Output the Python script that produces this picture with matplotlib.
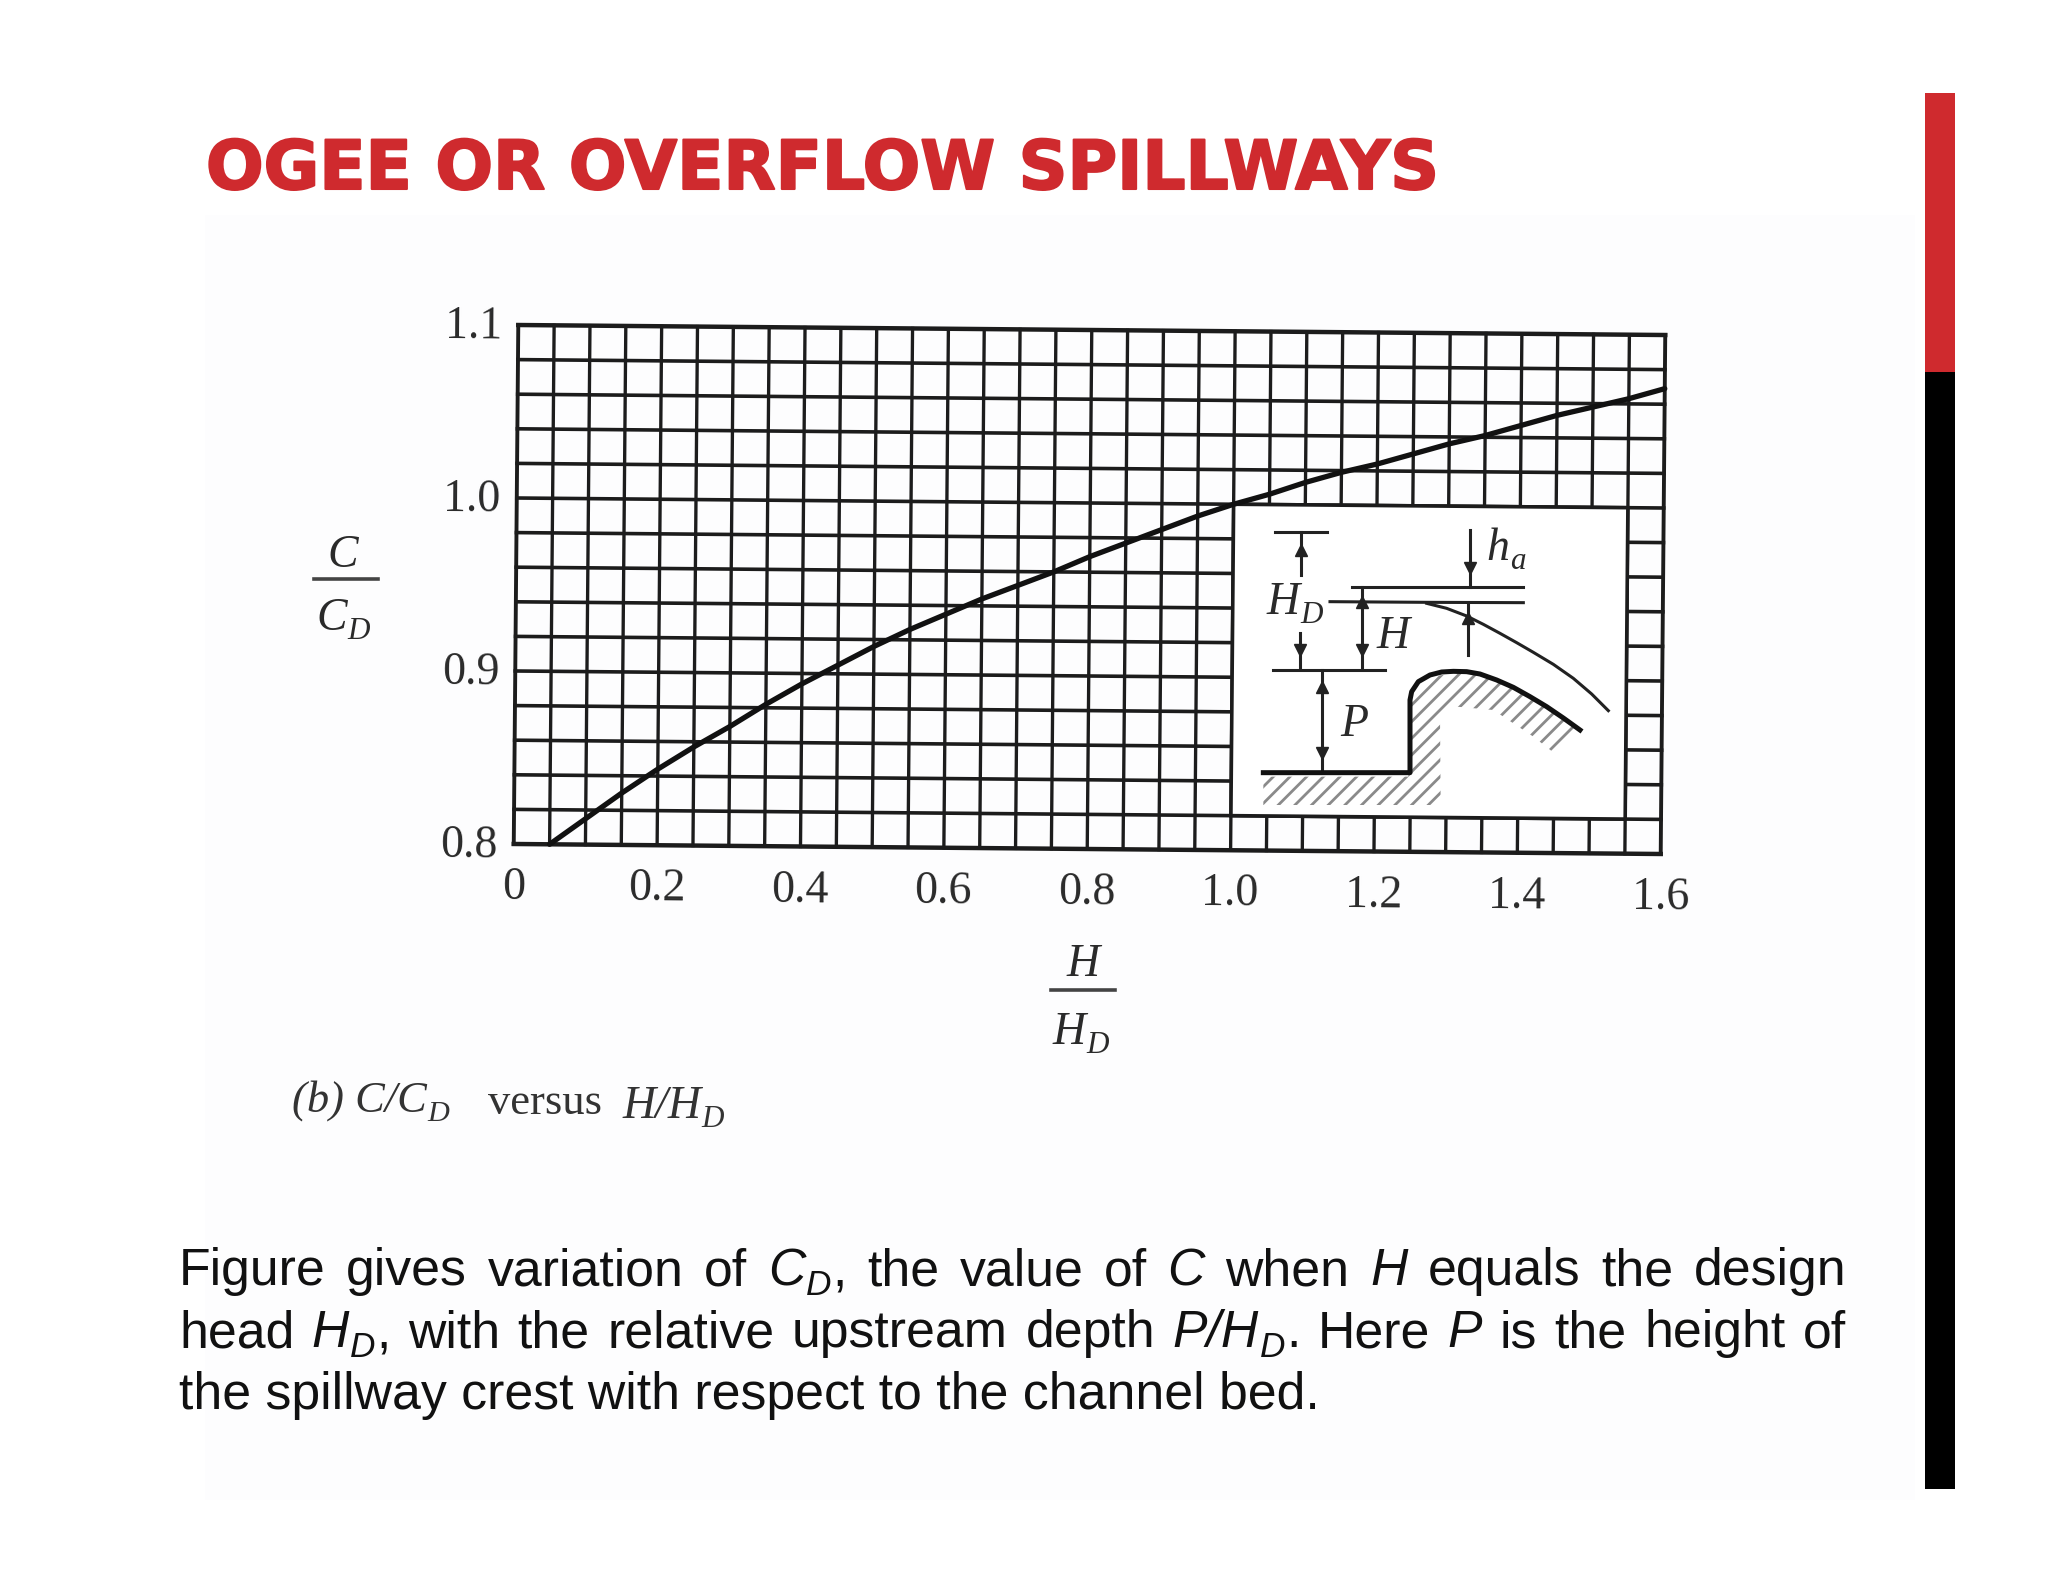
import matplotlib
matplotlib.use("Agg")
import matplotlib.pyplot as plt
import matplotlib.patheffects as pe
from matplotlib.patches import Polygon, Rectangle
from matplotlib.transforms import Affine2D
import numpy as np

# values
x_ticks = [0, 0.2, 0.4, 0.6, 0.8, 1.0, 1.2, 1.4, 1.6]
x_labels = ["0", "0.2", "0.4", "0.6", "0.8", "1.0", "1.2", "1.4", "1.6"]
y_ticks = [0.8, 0.9, 1.0, 1.1]
y_labels = ["0.8", "0.9", "1.0", "1.1"]
curve_x = [0.05, 0.1, 0.15, 0.2, 0.25, 0.3, 0.35, 0.4, 0.45, 0.5, 0.55, 0.6, 0.65, 0.7, 0.75, 0.8, 0.85,
	0.9, 0.95, 1.0, 1.05, 1.1, 1.15, 1.2, 1.25, 1.3, 1.35, 1.4, 1.45, 1.5, 1.55, 1.6]
curve_y = [0.80, 0.815, 0.830, 0.844, 0.857, 0.869, 0.882, 0.894, 0.905, 0.916, 0.926, 0.935, 0.944, 0.952, 0.960, 0.969, 0.977,
	0.985, 0.993, 1.0, 1.006, 1.013, 1.019, 1.024, 1.030, 1.036, 1.041, 1.047, 1.053, 1.058, 1.063, 1.069]
inset_x = [1.0, 1.55]
inset_y = [0.82, 1.0]

title = "OGEE OR OVERFLOW SPILLWAYS"
red = "#cf2a2e"
ink = "#1c1c1c"

fig = plt.figure(figsize=(20.48, 15.82), dpi=100, facecolor="white")
W, H = 2048.0, 1582.0

fig.add_artist(Rectangle((205 / W, 1 - 1500 / H), 1710 / W, 1285 / H, fc="#fdfdfe", ec="none", zorder=-5, transform=fig.transFigure))

# overlay in pixels, for the slide furniture and the sketch
pg = fig.add_axes([0, 0, 1, 1], zorder=3)
pg.set_xlim(0, W)
pg.set_ylim(H, 0)
pg.axis("off")
pg.patch.set_alpha(0)

ax = fig.add_axes([516 / W, 1 - 849 / H, 1147 / W, 519 / H], zorder=2)
ax.set_xlim(0, 1.6)
ax.set_ylim(0.8, 1.1)
ax.axis("off")
ax.patch.set_alpha(0)
cx, cy = 1089.5, H - 589.5
tilt = Affine2D().rotate_deg_around(cx, cy, -0.5) # the scan sits slightly crooked
tr = ax.transData + tilt

for i in range(33): # grid, 0.05 by 0.02
	xv = i * 0.05
	lw = 2.8 if i in (0, 32) else 2.4
	ax.plot([xv, xv], [0.8, 1.1], color=ink, lw=lw, transform=tr, clip_on=False, zorder=1)
for i in range(16):
	yv = 0.8 + i * 0.02
	lw = 3.2 if i in (0, 15) else 2.6
	ax.plot([0, 1.6], [yv, yv], color=ink, lw=lw, transform=tr, clip_on=False, zorder=1)

ax.add_patch(Polygon([[inset_x[0], inset_y[0]], [inset_x[1], inset_y[0]], [inset_x[1], inset_y[1]], [inset_x[0], inset_y[1]]],
	fc="white", ec=ink, lw=2.6, transform=tr, zorder=2))
ax.plot(curve_x, curve_y, color="#111111", lw=3.8, transform=tr, clip_on=False, zorder=3, solid_capstyle="round")

for v, s in zip(x_ticks, x_labels):
	ax.text(v, 0.7745, s, family="Liberation Serif", fontsize=33, color="#2a2a2a", ha="center", va="center",
		rotation=-0.5, transform=tr)
for v, s in zip(y_ticks, y_labels):
	ax.text(-0.022, v - 0.001, s, family="Liberation Serif", fontsize=33, color="#2a2a2a", ha="right", va="center",
		rotation=-0.5, transform=tr)

fig.canvas.draw()
rend = fig.canvas.get_renderer()


def run_text(x, y, runs, size, family, color, measure=False): #writes pieces of text one after the other, returns end x
	for r in runs:
		s, style, sub = r
		fs = size * 0.68 if sub else size
		dy = size * 1.39 * 0.2 if sub else 0
		t = pg.text(x, y + dy, s, family=family, fontsize=fs, style=style, color=color, ha="left", va="baseline")
		x = x + t.get_window_extent(rend).width + size * 0.02
		if measure:
			t.remove()
	return x


def word_runs(word): #*x* is italic, _x_ a subscript in italics
	runs = []
	for part in word:
		if part[0] == "*":
			runs.append((part[1:], "italic", False))
		elif part[0] == "_":
			runs.append((part[1:], "italic", True))
		else:
			runs.append((part, "normal", False))
	return runs


def justified(x0, x1, y, words, size):
	widths = [run_text(0, 0, word_runs(w), size, "Liberation Sans", "k", True) for w in words]
	gap = (x1 - x0 - sum(widths)) / (len(words) - 1)
	x = x0
	for w, wd in zip(words, widths):
		run_text(x, y, word_runs(w), size, "Liberation Sans", "#111111")
		x = x + wd + gap


# slide
pg.add_patch(Rectangle((1925, 93), 30, 279, fc="#cf2a2e", ec="none"))
pg.add_patch(Rectangle((1925, 372), 30, 1117, fc="black", ec="none"))
pg.text(206, 189, title, family="DejaVu Sans", weight="bold", fontsize=48.8, color=red, ha="left", va="baseline",
	path_effects=[pe.withStroke(linewidth=1.5, foreground=red)])

line1 = [["Figure"], ["gives"], ["variation"], ["of"], ["*C", "_D", ","], ["the"], ["value"], ["of"], ["*C"], ["when"], ["*H"], ["equals"], ["the"], ["design"]]
line2 = [["head"], ["*H", "_D", ","], ["with"], ["the"], ["relative"], ["upstream"], ["depth"], ["*P/H", "_D", "."], ["Here"], ["*P"], ["is"], ["the"], ["height"], ["of"]]
line3 = ["the spillway crest with respect to the channel bed."]
justified(179, 1847, 1285, line1, 37.3)
justified(179, 1847, 1347, line2, 37.3)
pg.text(179, 1409, line3[0], family="Liberation Sans", fontsize=37.3, color="#111111", ha="left", va="baseline")

# axis titles, the fractions
serif = "Liberation Serif"
pg.text(343, 567, "C", family=serif, style="italic", fontsize=33, color="#2a2a2a", ha="center", va="baseline")
pg.plot([314, 378], [579, 579], color="#444444", lw=2.6)
run_text(316, 630, [("C", "italic", False), ("D", "italic", True)], 33, serif, "#2a2a2a")
pg.text(1083, 976, "H", family=serif, style="italic", fontsize=33, color="#2a2a2a", ha="center", va="baseline")
pg.plot([1051, 1115], [990, 990], color="#444444", lw=2.6)
run_text(1053, 1044, [("H", "italic", False), ("D", "italic", True)], 33, serif, "#2a2a2a")
run_text(292, 1112, [("(b) C/C", "italic", False), ("D", "italic", True)], 32, serif, "#333333")
run_text(488, 1114, [("versus", "normal", False)], 32, serif, "#333333")
run_text(622, 1118, [("H/H", "italic", False), ("D", "italic", True)], 33, serif, "#333333")


# the sketch, in crop coordinates of the scan
def z(pts):
	return [1200 + p[0] / 3.0 for p in pts], [480 + p[1] / 3.0 for p in pts]


sk_lines = [
	[(225, 155), (380, 155)], [(302, 155), (302, 285)], [(300, 460), (300, 568)],
	[(810, 150), (810, 320)], [(455, 320), (970, 320)], [(390, 365), (680, 367), (970, 368)],
	[(485, 320), (485, 568)], [(220, 570), (555, 570)], [(367, 570), (367, 872)], [(805, 368), (805, 525)],
]
sk_up = [(302, 210), (485, 365), (367, 622), (805, 415)]
sk_down = [(300, 510), (810, 265), (485, 510), (367, 820)]
nappe = [(680, 370), (740, 385), (800, 408), (850, 433), (900, 460), (950, 488), (1000, 517), (1060, 553), (1120, 595), (1175, 642), (1225, 692)]
crest = [(190, 878), (630, 878), (630, 660), (635, 635), (655, 605), (690, 585), (725, 576), (760, 574), (800, 575), (840, 582), (890, 600), (940, 622), (990, 650), (1040, 680), (1090, 714), (1140, 750)]
hatch_a = [(190, 890), (625, 890), (625, 660), (650, 620), (695, 590), (760, 580), (840, 586), (940, 626), (1040, 686), (1140, 755),
	(1070, 825), (1000, 770), (880, 690), (770, 680), (720, 710), (722, 975), (190, 975)]

plt.rcParams["hatch.linewidth"] = 2.0
xs, ys = z(hatch_a)
pg.add_patch(Polygon(list(zip(xs, ys)), fc="white", ec="#8a8a8a", lw=0, hatch="//", zorder=1))
for seg in sk_lines:
	xs, ys = z(seg)
	pg.plot(xs, ys, color="#222222", lw=2.2, zorder=3)
xs, ys = z(nappe)
pg.plot(xs, ys, color="#222222", lw=2.2, zorder=3)
xs, ys = z(crest)
pg.plot(xs, ys, color="#111111", lw=3.6, zorder=3)
xs, ys = z(sk_up)
pg.plot(xs, ys, ls="none", marker="^", ms=8, color="#222222", zorder=3)
xs, ys = z(sk_down)
pg.plot(xs, ys, ls="none", marker="v", ms=8, color="#222222", zorder=3)

xs, ys = z([(200, 402), (530, 505), (420, 768), (858, 240)])
run_text(xs[0], ys[0], [("H", "italic", False), ("D", "italic", True)], 33, serif, "#2a2a2a")
run_text(xs[1], ys[1], [("H", "italic", False)], 33, serif, "#2a2a2a")
run_text(xs[2], ys[2], [("P", "italic", False)], 33, serif, "#2a2a2a")
run_text(xs[3], ys[3], [("h", "italic", False), ("a", "italic", True)], 33, serif, "#2a2a2a")

fig.savefig("out.png", dpi=100)
